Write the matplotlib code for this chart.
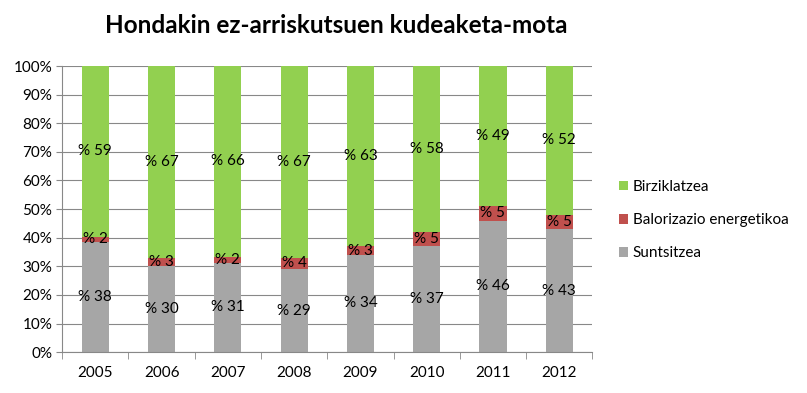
import matplotlib.pyplot as plt
import numpy as np

years = ["2005", "2006", "2007", "2008", "2009", "2010", "2011", "2012"]
suntsitzea = [38, 30, 31, 29, 34, 37, 46, 43]
balorizazioa = [2, 3, 2, 4, 3, 5, 5, 5]
birziklatzea = [59, 67, 66, 67, 63, 58, 49, 52]

series = [
    ("Suntsitzea", suntsitzea, "#A6A6A6"),
    ("Balorizazio energetikoa", balorizazioa, "#C0504D"),
    ("Birziklatzea", birziklatzea, "#92D050"),
]

plt.rcParams['font.family'] = ['Lato', 'DejaVu Sans']

fig = plt.figure(figsize=(8.07, 3.93), dpi=100)
ax = fig.add_axes([0.077, 0.104, 0.657, 0.728])

x = np.arange(len(years))
totals = np.sum([s[1] for s in series], axis=0)
bottom = np.zeros(len(years))
handles = []
for name, vals, color in series:
    share = np.array(vals) / totals * 100
    h = ax.bar(x, share, 0.41, bottom=bottom, color=color, label=name, zorder=2)
    handles.append(h)
    for xi, b, s, v in zip(x, bottom, share, vals):
        ax.text(xi, b + s / 2, f"% {v}", ha="center", va="center", fontsize=11, color="black", zorder=3)
    bottom += share

ax.set_xlim(-0.5, len(years) - 0.5)
ax.set_ylim(0, 100)
ax.set_yticks(np.arange(0, 101, 10))
ax.set_yticklabels([f"{v}%" for v in range(0, 101, 10)], fontsize=11)
ax.set_xticks(x)
ax.set_xticklabels(years, fontsize=11)
ax.set_xticks(np.arange(-0.5, len(years)), minor=True)
ax.tick_params(axis="x", which="major", length=0, pad=10)
ax.tick_params(axis="x", which="minor", length=5, color="#888888")
ax.tick_params(axis="y", length=4, color="#888888", pad=3)
ax.grid(axis="y", color="#888888", linewidth=0.8, zorder=0)
for side in ["top", "right"]:
    ax.spines[side].set_visible(False)
for side in ["left", "bottom"]:
    ax.spines[side].set_color("#888888")

fig.text(0.417, 0.935, "Hondakin ez-arriskutsuen kudeaketa-mota", ha="center", va="center",
         fontsize=17.5, fontweight="bold")

fig.legend(handles[::-1], [s[0] for s in series][::-1], loc="center left",
           bbox_to_anchor=(0.75, 0.44), frameon=False, fontsize=11,
           handlelength=0.6, handleheight=0.6, handletextpad=0.3, labelspacing=1.25)

fig.savefig("out.png", dpi=100)
